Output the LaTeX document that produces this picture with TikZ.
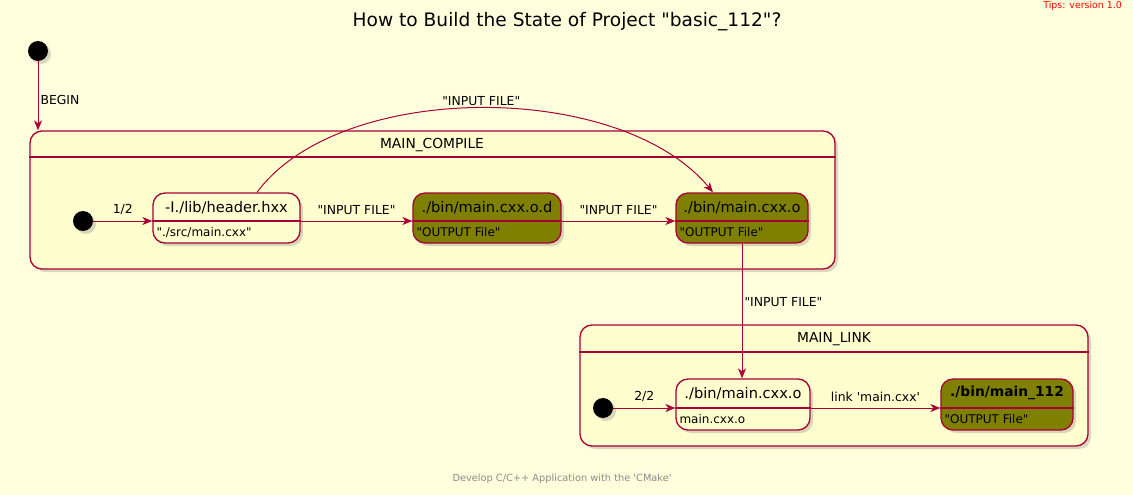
\documentclass[tikz,border=0pt]{standalone}
\usepackage{fontspec}
\setmainfont{DejaVu Sans}[Ligatures=TeXOff]
\usetikzlibrary{arrows.meta,positioning,shadows}
\definecolor{plum}{HTML}{A80036}
\definecolor{stfill}{HTML}{FEFECE}
\definecolor{bgfill}{HTML}{FFFFDE}
\definecolor{olivefill}{HTML}{808000}
\tikzset{
    >={Stealth[length=10pt,width=8pt,inset=3pt]},
    dropsh/.style={drop shadow={shadow xshift=3pt,shadow yshift=-3pt,opacity=0.3}},
    group/.style={
        rectangle,
        rounded corners=12pt,
        draw=plum, line width=1.3pt,
        fill=stfill,
        dropsh,
        inner sep=0pt
    },
    state/.style={
        rectangle,
        rounded corners=12pt,
        draw=plum, line width=1.3pt,
        fill=stfill,
        dropsh,
        minimum height=50pt,
        inner sep=0pt
    },
    done/.style={state, fill=olivefill},
    start/.style={circle, fill=black, minimum size=20pt, inner sep=0pt, dropsh},
    divider/.style={draw=plum, line width=1.3pt},
    sname/.style={font={\fontsize{14.6}{17}\selectfont}, inner sep=0pt},
    gname/.style={font={\fontsize{13.8}{16}\selectfont}, inner sep=0pt},
    sbody/.style={anchor=west, font={\fontsize{12}{14}\selectfont}, inner sep=0pt},
    lbl/.style={font={\fontsize{12.4}{14}\selectfont}, inner sep=2pt},
    edge/.style={draw=plum, line width=1pt, ->},
}

\begin{document}
\begin{tikzpicture}[x=1pt, y=-1pt]

\path[use as bounding box, fill=bgfill] (0,0) rectangle (1133,495);

\node[font={\fontsize{18.6}{22}\selectfont}] (title) at (567,22) {How to Build the State of Project "basic\_112"?};
\node[anchor=east, text=red, font={\fontsize{9.4}{11}\selectfont}, inner sep=0pt] (tips) at (1122,6) {Tips: version 1.0};
\node[text=black!45, font={\fontsize{9.8}{12}\selectfont}] (foot) at (562,479) {Develop C/C++ Application with the 'CMake'};

% composite states
\node[group, minimum width=805pt, minimum height=138pt] (compile) at (432.5,200) {};
\node[group, minimum width=508pt, minimum height=121pt] (link) at (834,385.5) {};
\draw[divider] (compile.west |- 0,157) -- (compile.east |- 0,157);
\draw[divider] (link.west |- 0,352) -- (link.east |- 0,352);
\node[gname] (compile-t) at (432,145) {MAIN\_COMPILE};
\node[gname] (link-t) at (834,339) {MAIN\_LINK};

\coordinate (row1) at (0,221);
\coordinate (row2) at (0,408);

\foreach \n/\x/\y in {top/38/51, ini1/83/221, ini2/603/408}
  \node[start] (\n) at (\x,\y) {};

% inner states
\node[state, minimum width=147pt] (hdr) at (226.5,218) {};
\node[done, minimum width=148pt] (dep) at (487,218) {};
\node[done, minimum width=132pt] (obj) at (742,218) {};
\node[state, minimum width=134pt, minimum height=51pt] (lobj) at (743,404.5) {};
\node[done, minimum width=132pt, minimum height=51pt] (exe) at (1007,404.5) {};

\foreach \s in {hdr,dep,obj}
  \draw[divider] (\s.west |- row1) -- (\s.east |- row1);
\foreach \s in {lobj,exe}
  \draw[divider] (\s.west |- row2) -- (\s.east |- row2);

\path (hdr.north) ++(0,15) node[sname] (hdr-t) {-I./lib/header.hxx};
\path (dep.north) ++(0,15) node[sname] (dep-t) {./bin/main.cxx.o.d};
\path (obj.north) ++(0,15) node[sname] (obj-t) {./bin/main.cxx.o};
\path (lobj.north) ++(0,15) node[sname] (lobj-t) {./bin/main.cxx.o};
\path (exe.north) ++(0,15) node[sname, font={\fontsize{13.8}{16}\selectfont\bfseries}] (exe-t) {./bin/main\_112};

\path (hdr.west |- row1) ++(4,11) node[sbody] (hdr-b) {"./src/main.cxx"};
\path (dep.west |- row1) ++(4,11) node[sbody] (dep-b) {"OUTPUT File"};
\path (obj.west |- row1) ++(4,11) node[sbody] (obj-b) {"OUTPUT File"};
\path (lobj.west |- row2) ++(4,11) node[sbody] (lobj-b) {main.cxx.o};
\path (exe.west |- row2) ++(4,11) node[sbody] (exe-b) {"OUTPUT File"};

% transitions
\draw[edge] (top) -- (top |- compile.north)
  node[lbl, pos=0.56, right] {BEGIN};
\draw[edge] (ini1) -- (hdr.west |- ini1)
  node[lbl, midway, above=4pt] {1/2};
\draw[edge] (hdr.east |- row1) -- (dep.west |- row1)
  node[lbl, midway, above=4pt] {"INPUT FILE"};
\draw[edge] (dep.east |- row1) -- (obj.west |- row1)
  node[lbl, midway, above=4pt] {"INPUT FILE"};
\draw[edge] ([xshift=30.5pt]hdr.north) .. controls (340,80) and (620,80) .. ([xshift=-29pt]obj.north)
  node[lbl, pos=0.5, above] {"INPUT FILE"};
\draw[edge] (obj.south) -- (obj.south |- lobj.north)
  node[lbl, pos=0.43, right] {"INPUT FILE"};
\draw[edge] (ini2) -- (lobj.west |- ini2)
  node[lbl, midway, above=4pt] {2/2};
\draw[edge] (lobj.east |- row2) -- (exe.west |- row2)
  node[lbl, midway, above=4pt] {link 'main.cxx'};

\end{tikzpicture}
\end{document}
